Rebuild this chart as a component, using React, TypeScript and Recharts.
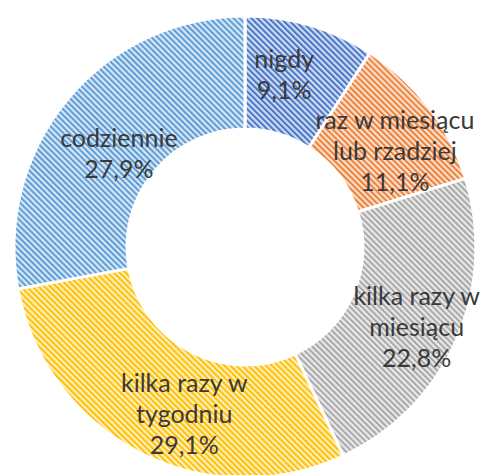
import { PieChart, Pie, Cell } from 'recharts';

const categories = ['nigdy', 'raz w miesiącu lub rzadziej', 'kilka razy w miesiącu', 'kilka razy w tygodniu', 'codziennie'];
const values = [9.1, 11.1, 22.8, 29.1, 27.9];
const labelLines = [
  ['nigdy'],
  ['raz w miesiącu', 'lub rzadziej'],
  ['kilka razy w', 'miesiącu'],
  ['kilka razy w', 'tygodniu'],
  ['codziennie'],
];

// stripe colour + pale background for each slice
const PATTERNS = [
  { fg: '#4775c8', bg: '#d0dcf2' }, // blue
  { fg: '#ee8038', bg: '#fbe1cf' }, // orange
  { fg: '#a8a8a8', bg: '#e9e9e9' }, // gray
  { fg: '#ffc000', bg: '#ffefc0' }, // yellow
  { fg: '#5c9cd6', bg: '#d8e7f6' }, // light blue
];

// small nudges so labels sit where Excel put them
const LABEL_NUDGE = [
  [-10, -6],
  [11, 9],
  [12, 9],
  [19, 11],
  [8, 17],
];

const data = categories.map((name, i) => ({ name, value: values[i] }));

const RADIAN = Math.PI / 180;

function renderLabel(props: any) {
  const { cx, cy, midAngle, innerRadius, outerRadius, index } = props;
  const r = (innerRadius + outerRadius) / 2;
  const x = cx + r * Math.cos(-midAngle * RADIAN) + LABEL_NUDGE[index][0];
  const y = cy + r * Math.sin(-midAngle * RADIAN) + LABEL_NUDGE[index][1];
  const lines = [...labelLines[index], `${values[index].toFixed(1).replace('.', ',')}%`];
  const lh = 31;
  const y0 = y - ((lines.length - 1) * lh) / 2;
  return (
    <text
      x={x}
      y={y0}
      textAnchor="middle"
      dominantBaseline="central"
      fill="#3a3a3a"
      fontSize={25}
      fontFamily="Lato, 'Open Sans', sans-serif"
    >
      {lines.map((l, i) => (
        <tspan key={i} x={x} y={y0 + i * lh}>
          {l}
        </tspan>
      ))}
    </text>
  );
}

export default function App() {
  return (
    <div style={{ position: 'absolute', left: 0, top: 0, width: 482, height: 475, background: '#fff' }}>
      <PieChart width={482} height={475} margin={{ top: 0, right: 0, bottom: 0, left: 0 }}>
        <defs>
          {PATTERNS.map((p, i) => (
            <pattern
              key={i}
              id={`hatch${i}`}
              patternUnits="userSpaceOnUse"
              width={4.2}
              height={4.2}
              patternTransform="rotate(-45)"
            >
              <rect x={0} y={0} width={4.2} height={4.2} fill={p.bg} />
              <rect x={0} y={0} width={2} height={4.2} fill={p.fg} />
            </pattern>
          ))}
        </defs>
        <Pie
          data={data}
          dataKey="value"
          nameKey="name"
          cx={245}
          cy={247}
          innerRadius={118}
          outerRadius={231}
          startAngle={90}
          endAngle={-270}
          stroke="#ffffff"
          strokeWidth={3}
          label={renderLabel}
          labelLine={false}
          isAnimationActive={false}
        >
          {data.map((d, i) => (
            <Cell key={d.name} fill={`url(#hatch${i})`} />
          ))}
        </Pie>
      </PieChart>
    </div>
  );
}
